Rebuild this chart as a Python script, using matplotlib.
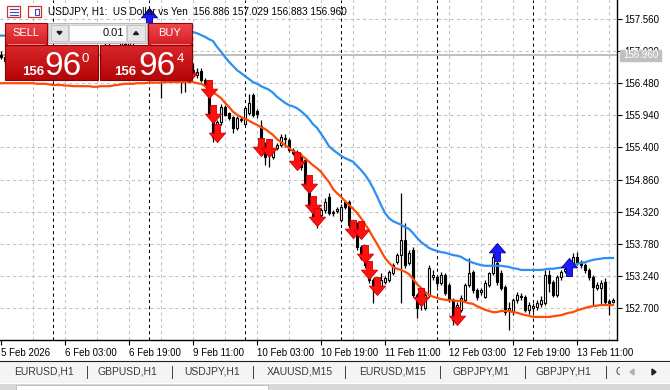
import numpy as np
import matplotlib.pyplot as plt
from matplotlib.path import Path
from matplotlib.patches import Rectangle, Polygon
from matplotlib.colors import LinearSegmentedColormap

plt.rcParams['font.family'] = ['Liberation Sans', 'DejaVu Sans']

# USDJPY H1 candles, bar 0 = 5 Feb 11:00
opens = [156.95, 156.92, 156.85, 156.90, 157.01, 156.98, 156.90, 156.79, 156.84, 156.93,
         156.88, 156.75, 156.68, 156.77, 156.82, 156.78, 156.71, 156.66, 156.72, 156.80,
         156.75, 156.67, 156.70, 156.78, 156.88, 156.96, 157.03, 157.10, 157.06, 157.00,
         157.05, 157.16, 157.12, 157.19, 157.24, 157.30, 157.28, 157.22, 157.40, 157.10,
         156.92, 156.60, 156.75, 156.84, 156.78, 156.68, 156.72, 156.64, 156.70, 156.62,
         156.69, 156.53, 156.50, 155.95, 155.66, 155.83, 156.08, 155.98, 155.91, 155.73,
         155.86, 155.80, 155.98, 156.28, 156.02, 155.76, 155.44, 155.41, 155.24, 155.39,
         155.44, 155.56, 155.53, 155.36, 155.33, 155.27, 155.19, 154.77, 154.45, 154.30,
         154.26, 154.35, 154.57, 154.29, 154.33, 154.18, 154.48, 154.48, 154.10, 154.13,
         153.73, 153.63, 153.46, 153.17, 153.12, 153.05, 153.14, 153.17, 153.29, 153.47,
         153.59, 153.84, 153.46, 153.68, 152.92, 152.83, 152.70, 152.92, 153.22, 153.22,
         153.12, 153.26, 153.09, 152.83, 152.67, 152.67, 152.83, 153.09, 153.31, 153.00,
         152.97, 152.89, 153.09, 153.29, 153.46, 153.29, 153.05, 152.67, 152.63, 152.83,
         152.90, 152.89, 152.67, 152.70, 152.72, 152.77, 152.78, 153.26, 153.14, 152.92,
         153.22, 153.33, 153.39, 153.42, 153.56, 153.47, 153.42, 153.34, 153.22, 153.04,
         153.04, 153.14, 152.82, 152.80]
highs = [157.02, 156.99, 156.93, 157.05, 157.10, 157.04, 156.96, 156.88, 156.97, 157.00,
         156.92, 156.82, 156.80, 156.86, 156.90, 156.84, 156.78, 156.74, 156.85, 156.88,
         156.79, 156.75, 156.82, 156.92, 157.01, 157.08, 157.15, 157.18, 157.12, 157.09,
         157.20, 157.26, 157.22, 157.30, 157.35, 157.40, 157.38, 157.46, 157.44, 157.18,
         157.00, 156.82, 156.90, 156.95, 156.86, 156.80, 156.85, 156.78, 156.82, 156.74,
         156.74, 156.57, 156.53, 155.98, 155.86, 156.13, 156.12, 156.00, 155.93, 155.93,
         155.91, 156.08, 156.30, 156.32, 156.05, 155.86, 155.49, 155.44, 155.39, 155.47,
         155.62, 155.62, 155.56, 155.39, 155.36, 155.30, 155.22, 154.80, 154.48, 154.33,
         154.38, 154.55, 154.63, 154.35, 154.40, 154.45, 154.52, 154.52, 154.13, 154.15,
         153.76, 153.66, 153.49, 153.20, 153.15, 153.29, 153.24, 153.34, 153.46, 153.63,
         154.63, 154.13, 153.68, 153.73, 152.95, 152.87, 152.95, 153.42, 153.34, 153.26,
         153.31, 153.29, 153.12, 152.87, 152.80, 152.92, 153.12, 153.54, 153.34, 153.04,
         153.04, 153.17, 153.31, 153.63, 153.59, 153.34, 153.09, 152.80, 152.87, 152.97,
         152.95, 152.92, 152.80, 152.78, 152.83, 152.90, 153.34, 153.34, 153.17, 153.26,
         153.34, 153.39, 153.51, 153.63, 153.64, 153.51, 153.46, 153.37, 153.26, 153.14,
         153.17, 153.20, 152.85, 152.87]
lows = [156.88, 156.80, 156.78, 156.86, 156.95, 156.86, 156.74, 156.72, 156.80, 156.85,
        156.70, 156.62, 156.60, 156.70, 156.75, 156.66, 156.61, 156.58, 156.68, 156.72,
        156.62, 156.58, 156.65, 156.74, 156.83, 156.90, 156.98, 157.00, 156.95, 156.93,
        157.01, 157.08, 157.05, 157.12, 157.17, 157.20, 157.15, 157.10, 157.05, 156.85,
        156.23, 156.56, 156.68, 156.70, 156.62, 156.32, 156.33, 156.57, 156.60, 156.57,
        156.50, 156.42, 155.91, 155.49, 155.58, 155.78, 155.93, 155.86, 155.64, 155.70,
        155.83, 155.78, 155.95, 155.91, 155.90, 155.32, 155.10, 155.07, 155.20, 155.36,
        155.41, 155.41, 155.32, 155.27, 155.24, 155.02, 154.70, 154.40, 154.15, 154.05,
        154.20, 154.30, 154.26, 154.25, 154.30, 154.15, 154.37, 154.05, 153.88, 153.68,
        153.50, 153.38, 153.12, 152.78, 152.95, 153.00, 153.10, 153.14, 153.26, 153.44,
        152.78, 153.38, 153.42, 152.89, 152.53, 152.67, 152.67, 152.89, 153.17, 153.05,
        153.09, 152.92, 152.80, 152.41, 152.58, 152.63, 152.80, 153.05, 152.95, 152.83,
        152.92, 152.87, 153.05, 153.26, 153.09, 153.00, 152.58, 152.33, 152.58, 152.78,
        152.83, 152.63, 152.60, 152.63, 152.67, 152.72, 152.75, 152.97, 152.89, 152.89,
        153.17, 153.29, 153.34, 153.39, 153.42, 153.37, 153.29, 153.17, 152.75, 153.00,
        152.75, 152.75, 152.58, 152.78]
closes = [156.92, 156.85, 156.90, 157.01, 156.98, 156.90, 156.79, 156.84, 156.93, 156.88,
          156.75, 156.68, 156.77, 156.82, 156.78, 156.71, 156.66, 156.72, 156.80, 156.75,
          156.67, 156.70, 156.78, 156.88, 156.96, 157.03, 157.10, 157.06, 157.00, 157.05,
          157.16, 157.12, 157.19, 157.24, 157.30, 157.28, 157.22, 157.40, 157.10, 156.92,
          156.60, 156.75, 156.84, 156.78, 156.68, 156.72, 156.64, 156.70, 156.66, 156.67,
          156.53, 156.45, 155.95, 155.58, 155.83, 156.08, 155.95, 155.90, 155.73, 155.90,
          155.88, 156.06, 156.15, 155.95, 155.96, 155.36, 155.24, 155.27, 155.36, 155.44,
          155.58, 155.54, 155.36, 155.31, 155.28, 155.07, 154.73, 154.43, 154.21, 154.15,
          154.35, 154.48, 154.30, 154.32, 154.36, 154.40, 154.40, 154.10, 153.96, 153.73,
          153.54, 153.42, 153.17, 153.05, 153.00, 153.17, 153.20, 153.31, 153.42, 153.59,
          153.84, 153.42, 153.63, 152.92, 152.70, 152.75, 152.92, 153.37, 153.26, 153.12,
          153.26, 152.95, 152.83, 152.50, 152.75, 152.87, 153.09, 153.29, 153.00, 152.89,
          153.00, 153.12, 153.29, 153.56, 153.14, 153.04, 152.63, 152.70, 152.83, 152.92,
          152.88, 152.67, 152.75, 152.73, 152.78, 152.83, 153.26, 153.12, 152.92, 153.22,
          153.31, 153.35, 153.46, 153.56, 153.46, 153.42, 153.34, 153.22, 153.05, 153.09,
          153.12, 152.80, 152.78, 152.83]

# indicator lines
orange_line = [156.48, 156.48, 156.48, 156.48, 156.48, 156.48, 156.48, 156.48, 156.48, 156.47,
               156.47, 156.47, 156.46, 156.45, 156.45, 156.45, 156.44, 156.44, 156.43, 156.43,
               156.43, 156.43, 156.43, 156.42, 156.42, 156.43, 156.43, 156.43, 156.44, 156.45,
               156.46, 156.47, 156.47, 156.47, 156.48, 156.48, 156.48, 156.49, 156.49, 156.49,
               156.49, 156.50, 156.50, 156.50, 156.50, 156.50, 156.50, 156.50, 156.50, 156.48,
               156.47, 156.43, 156.38, 156.33, 156.28, 156.23, 156.15, 156.08, 156.00, 155.95,
               155.91, 155.88, 155.85, 155.81, 155.78, 155.74, 155.71, 155.66, 155.61, 155.54,
               155.49, 155.44, 155.39, 155.34, 155.31, 155.27, 155.22, 155.16, 155.10, 155.05,
               154.99, 154.90, 154.82, 154.70, 154.63, 154.57, 154.50, 154.43, 154.37, 154.30,
               154.21, 154.11, 154.01, 153.89, 153.78, 153.66, 153.54, 153.46, 153.39, 153.36,
               153.34, 153.31, 153.27, 153.19, 153.10, 153.04, 152.97, 152.92, 152.89, 152.87,
               152.85, 152.84, 152.83, 152.83, 152.82, 152.82, 152.80, 152.78, 152.77, 152.73,
               152.70, 152.67, 152.65, 152.63, 152.63, 152.65, 152.65, 152.65, 152.63, 152.62,
               152.60, 152.58, 152.57, 152.55, 152.55, 152.55, 152.55, 152.55, 152.56, 152.57,
               152.58, 152.60, 152.62, 152.63, 152.66, 152.68, 152.70, 152.72, 152.73, 152.74,
               152.75, 152.75, 152.75, 152.75]
blue_line = [157.28, 157.28, 157.28, 157.28, 157.28, 157.28, 157.28, 157.28, 157.28, 157.27,
             157.27, 157.27, 157.26, 157.25, 157.25, 157.25, 157.24, 157.24, 157.23, 157.23,
             157.23, 157.23, 157.23, 157.22, 157.22, 157.23, 157.23, 157.23, 157.24, 157.25,
             157.26, 157.27, 157.27, 157.27, 157.28, 157.28, 157.28, 157.29, 157.29, 157.29,
             157.29, 157.30, 157.30, 157.30, 157.30, 157.30, 157.31, 157.33, 157.34, 157.32,
             157.29, 157.26, 157.22, 157.19, 157.09, 157.01, 156.92, 156.84, 156.77, 156.70,
             156.65, 156.60, 156.55, 156.50, 156.47, 156.43, 156.40, 156.37, 156.32, 156.25,
             156.20, 156.15, 156.11, 156.09, 156.06, 156.01, 155.95, 155.88, 155.79, 155.73,
             155.63, 155.53, 155.42, 155.36, 155.31, 155.26, 155.22, 155.19, 155.16, 155.09,
             155.02, 154.94, 154.84, 154.72, 154.58, 154.43, 154.30, 154.21, 154.16, 154.13,
             154.10, 154.06, 154.03, 153.96, 153.88, 153.81, 153.76, 153.71, 153.68, 153.66,
             153.64, 153.63, 153.61, 153.59, 153.58, 153.56, 153.52, 153.49, 153.46, 153.44,
             153.42, 153.41, 153.41, 153.41, 153.41, 153.41, 153.40, 153.39, 153.37, 153.36,
             153.34, 153.34, 153.34, 153.34, 153.34, 153.34, 153.35, 153.36, 153.36, 153.37,
             153.38, 153.39, 153.41, 153.42, 153.44, 153.46, 153.47, 153.49, 153.51, 153.52,
             153.53, 153.54, 153.54, 153.54]

# signal arrows (bar index, price)
sell_bars = [47, 52, 53, 54, 65, 67, 74, 77, 78, 79, 88, 90, 91, 92, 94, 105, 114]
sell_prices = [156.65, 156.38, 155.96, 155.64, 155.41, 155.39, 155.17, 154.79, 154.43, 154.23,
               154.03, 154.01, 153.61, 153.34, 153.07, 152.89, 152.57]
buy_bars = [37, 124, 142]
buy_prices = [157.59, 153.64, 153.39]

bid = 156.960
price_ticks = [152.70, 153.24, 153.78, 154.32, 154.86, 155.40, 155.94, 156.48, 157.02, 157.56]
time_ticks = [0, 16, 32, 48, 64, 80, 96, 112, 128, 144]
time_labels = ['5 Feb 2026', '6 Feb 03:00', '6 Feb 19:00', '9 Feb 11:00', '10 Feb 03:00',
               '10 Feb 19:00', '11 Feb 11:00', '12 Feb 03:00', '12 Feb 19:00', '13 Feb 11:00']
day_breaks = [13, 37, 61, 85, 109, 133]
tabs = ['EURUSD,H1', 'GBPUSD,H1', 'USDJPY,H1', 'XAUUSD,M15', 'EURUSD,M15', 'GBPJPY,M1', 'GBPJPY,H1']
tab_x = [44, 127, 212, 300, 392, 481, 563]
tab_sep = [87, 172, 253, 345, 440, 525, 606]

W, H = 670, 390
fig = plt.figure(figsize=(W / 100, H / 100), dpi=100)
ax = fig.add_axes([0, 50 / H, 617 / W, 340 / H])
ax.set_xlim(-0.25, 154.0)
ax.set_ylim(152.162, 157.879)

grid_kw = dict(color='#c0c0c0', lw=0.75, dashes=(3, 3), zorder=0)
for p in price_ticks:
    ax.axhline(p, **grid_kw)
for g in range(8, 154, 8):
    ax.axvline(g, **grid_kw)
for d in day_breaks:
    ax.axvline(d, color='black', lw=0.75, dashes=(3, 3), zorder=0.5)

ax.axhline(bid, color='#b4b4b4', lw=1.2, zorder=0.8)

xs = np.arange(len(closes))
o = np.array(opens); c = np.array(closes)
ax.vlines(xs, lows, highs, color='black', lw=0.9, zorder=2)
up = c >= o
ax.bar(xs[up], c[up] - o[up], bottom=o[up], width=0.55, color='white',
       edgecolor='black', linewidth=0.8, zorder=3)
ax.bar(xs[~up], o[~up] - c[~up], bottom=c[~up], width=0.55, color='black',
       edgecolor='black', linewidth=0.8, zorder=3)

ax.plot(np.arange(len(blue_line)), blue_line, color='#2d8ff0', lw=1.6, zorder=4)
ax.plot(np.arange(len(orange_line)), orange_line, color='#ff4a08', lw=1.6, zorder=4)

down_arrow = Path([(-0.17, 0.5), (0.17, 0.5), (0.17, 0.02), (0.45, 0.02), (0.0, -0.5),
                   (-0.45, 0.02), (-0.17, 0.02), (-0.17, 0.5)], closed=True)
up_arrow = Path([(x, -y) for x, y in down_arrow.vertices], closed=True)
ax.plot(sell_bars, sell_prices, ls='none', marker=down_arrow, ms=13,
        mfc='#ff1010', mec='#d00000', mew=0.6, zorder=5)
ax.plot(buy_bars, buy_prices, ls='none', marker=up_arrow, ms=13,
        mfc='#1a1aff', mec='#00008a', mew=0.6, zorder=5)

for s in ['top', 'left']:
    ax.spines[s].set_visible(False)
for s in ['right', 'bottom']:
    ax.spines[s].set_linewidth(1.0)
ax.yaxis.tick_right()
ax.set_yticks(price_ticks)
ax.set_yticklabels([f'{p:.3f}' for p in price_ticks])
ax.set_xticks(time_ticks)
ax.set_xticklabels(time_labels)
ax.tick_params(axis='y', direction='out', length=3.5, width=0.8, pad=2, labelsize=7)
ax.tick_params(axis='x', direction='out', length=3.5, width=0.8, pad=2, labelsize=7)
for t in ax.get_xticklabels():
    t.set_horizontalalignment('left')

# overlay in pixel coordinates
ov = fig.add_axes([0, 0, 1, 1], zorder=10)
ov.set_xlim(0, W)
ov.set_ylim(H, 0)
ov.axis('off')
ov.patch.set_alpha(0)


def grad_box(x0, y0, x1, y1, c_top, c_bot, edge):
    cmap = LinearSegmentedColormap.from_list('g', [c_top, c_bot])
    ov.imshow(np.linspace(0, 1, 64).reshape(-1, 1), cmap=cmap, aspect='auto',
              extent=(x0, x1, y1, y0), zorder=2, interpolation='bilinear')
    ov.add_patch(Rectangle((x0, y0), x1 - x0, y1 - y0, fill=False, ec=edge, lw=0.8, zorder=3))


# bid label on the price scale
ov.add_patch(Rectangle((620, 49.5), 41, 11, color='#c0c0c0', zorder=2))
ov.text(640.5, 55, '156.960', color='white', fontsize=7, ha='center', va='center', zorder=3)

# header
ov.add_patch(Rectangle((7, 6), 13, 11, fc='white', ec='#d03030', lw=0.9, zorder=2))
for yy in (9, 12, 15):
    ov.plot([10, 18], [yy, yy], color='#3050c0', lw=0.8, zorder=3)
ov.add_patch(Rectangle((28, 6), 13, 11, fc='white', ec='#d03030', lw=0.9, zorder=2))
ov.add_patch(Rectangle((35, 9), 4, 6, fc='white', ec='#3050c0', lw=0.8, zorder=3))
ov.text(48, 12, 'USDJPY, H1:  US Dollar vs Yen  156.886 157.029 156.883 156.960',
        fontsize=7.2, ha='left', va='center', color='black', zorder=1)

# one-click trading panel
grad_box(5, 23, 47, 45, '#ee4a4e', '#d41d24', '#a00000')
grad_box(148, 23, 192, 45, '#ee4a4e', '#d41d24', '#a00000')
grad_box(5, 45, 98, 80, '#d9262c', '#b40606', '#8a0000')
grad_box(100, 45, 192, 80, '#d9262c', '#b40606', '#8a0000')
ov.plot([8, 44], [43.5, 43.5], color='#f59a9a', lw=0.6, zorder=4)
ov.plot([151, 189], [43.5, 43.5], color='#f59a9a', lw=0.6, zorder=4)
ov.add_patch(Rectangle((48, 23), 99, 20, fc='#dcdcdc', ec='#b0b0b0', lw=0.6, zorder=2))
ov.add_patch(Rectangle((69, 25), 57, 16, fc='white', ec='#c8c8c8', lw=0.5, zorder=3))
ov.add_patch(Rectangle((51, 25), 17, 16, fc='#e6e6e6', ec='#b8b8b8', lw=0.5, zorder=3))
ov.add_patch(Rectangle((127, 25), 18, 16, fc='#e6e6e6', ec='#b8b8b8', lw=0.5, zorder=3))
ov.add_patch(Polygon([(57, 31.5), (62, 31.5), (59.5, 34.5)], color='#202020', zorder=4))
ov.add_patch(Polygon([(133.5, 34.5), (138.5, 34.5), (136, 31.5)], color='#202020', zorder=4))
ov.text(124, 33, '0.01', fontsize=8, ha='right', va='center', color='#101010', zorder=4)
ov.text(26, 33.5, 'SELL', fontsize=8, ha='center', va='center', color='white', zorder=4)
ov.text(170, 33.5, 'BUY', fontsize=8, ha='center', va='center', color='white', zorder=4)
for x156, x96, xsup, sup in [(22, 44, 82, '0'), (114, 138, 177, '4')]:
    ov.text(x156, 75, '156', fontsize=9.5, fontweight='bold', ha='left', va='baseline',
            color='white', zorder=4)
    ov.text(x96, 75, '96', fontsize=24, ha='left', va='baseline', color='white', zorder=4)
    ov.text(xsup, 62, sup, fontsize=9.5, ha='left', va='baseline', color='white', zorder=4)

# symbol tabs
ov.add_patch(Rectangle((0, 361), W, 22, fc='#f4f4f4', ec='none', zorder=1))
ov.plot([0, W], [361, 361], color='#202020', lw=0.8, zorder=2)
ov.add_patch(Rectangle((0, 383.5), W, 7, fc='#d8d8d8', ec='none', zorder=1))
ov.add_patch(Rectangle((16, 384.5), 252, 6, fc='white', ec='#b0b0b0', lw=0.5, zorder=2))
for name, tx in zip(tabs, tab_x):
    ov.text(tx, 372, name, fontsize=7.5, ha='center', va='center', color='#3a3a3a', zorder=3)
for sx in tab_sep:
    ov.plot([sx, sx], [366, 378], color='#404040', lw=0.7, zorder=3)
ov.text(616, 372, 'G', fontsize=7.5, ha='left', va='center', color='#3a3a3a', zorder=3,
        clip_on=True).set_clip_path(Rectangle((0, 0), 620, H, transform=ov.transData))
ov.add_patch(Rectangle((620, 362), 50, 21, fc='#f4f4f4', ec='none', zorder=3.5))
ov.add_patch(Polygon([(634, 369), (634, 375), (630, 372)], color='#b0b0b0', zorder=4))
ov.add_patch(Polygon([(652, 369), (652, 375), (656, 372)], color='#202020', zorder=4))

fig.savefig('out.png', dpi=100)
